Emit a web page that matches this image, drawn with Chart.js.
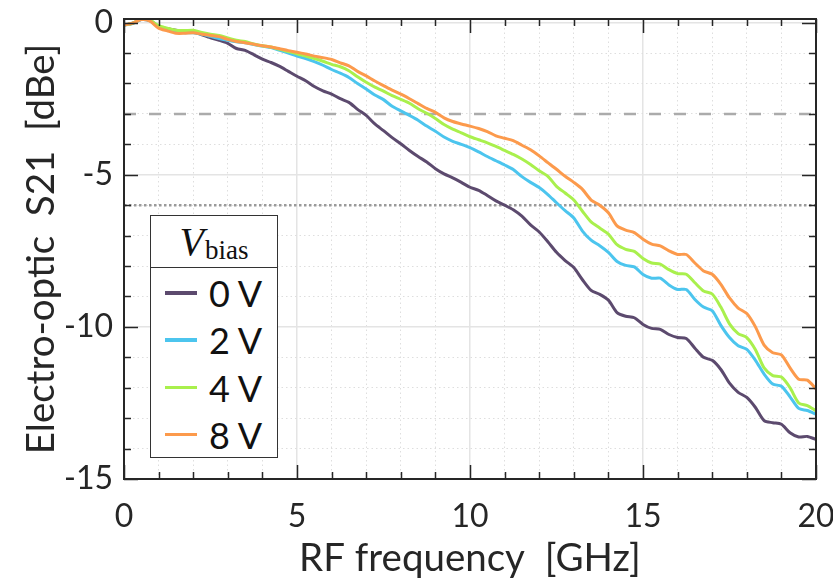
<!DOCTYPE html>
<html>
<head>
<meta charset="utf-8">
<script src="https://cdn.jsdelivr.net/npm/chart.js@4.4.1/dist/chart.umd.min.js"></script>
<style>
  html, body { margin: 0; padding: 0; background: #ffffff; }
  #wrap { position: relative; width: 833px; height: 582px; }
  #legend { position: absolute; left: 150px; top: 215px; width: 128px; height: 243px;
            border: 1.5px solid #333; background: #fff; box-sizing: border-box; }
  #legTitle { height: 52px; border-bottom: 1.5px solid #333; box-sizing: border-box;
              font-family: "Liberation Serif", "DejaVu Serif", serif; color: #111;
              text-align: center; line-height: 52px; }
  #legTitle i { font-size: 40px; }
  #legTitle sub { font-size: 27px; vertical-align: -4px; margin-left: 1px; }
  .item { position: absolute; left: 0; height: 40px; width: 126px; }
  .item .ln { position: absolute; left: 14px; width: 32px; height: 3.5px; top: 18px; }
  .item .tx { position: absolute; left: 58px; top: 0; line-height: 40px;
              font-family: Lato, "Open Sans", sans-serif; font-size: 36px; color: #111; }
</style>
</head>
<body>
<div id="wrap">
  <canvas id="c" width="833" height="582"></canvas>
  <div id="legend"><div id="legTitle"><i>V</i><sub>bias</sub></div></div>
</div>
<script>
// ---------------- data ----------------
const freqGHz = [0,0.25,0.5,0.75,1,1.25,1.5,1.75,2,2.25,2.5,2.75,3,3.25,3.5,3.75,4,4.25,4.5,4.75,
  5,5.25,5.5,5.75,6,6.25,6.5,6.75,7,7.25,7.5,7.75,8,8.25,8.5,8.75,9,9.25,9.5,9.75,
  10,10.25,10.5,10.75,11,11.25,11.5,11.75,12,12.25,12.5,12.75,13,13.25,13.5,13.75,14,14.25,14.5,14.75,
  15,15.25,15.5,15.75,16,16.25,16.5,16.75,17,17.25,17.5,17.75,18,18.25,18.5,18.75,19,19.25,19.5,19.75,20];

const s21_0V = [-0.08,-0.02,0.10,0.07,-0.12,-0.20,-0.25,-0.27,-0.30,-0.40,-0.50,-0.58,-0.68,-0.85,-0.91,-1.05,-1.20,-1.31,-1.44,-1.60,
  -1.76,-1.91,-2.10,-2.24,-2.35,-2.50,-2.62,-2.85,-3.05,-3.33,-3.55,-3.78,-3.98,-4.20,-4.40,-4.58,-4.80,-4.97,-5.10,-5.25,
  -5.41,-5.51,-5.68,-5.86,-6.00,-6.15,-6.36,-6.65,-6.88,-7.20,-7.55,-7.82,-8.05,-8.45,-8.80,-8.93,-9.12,-9.53,-9.65,-9.70,
  -9.92,-10.05,-10.08,-10.25,-10.35,-10.38,-10.70,-11.00,-11.10,-11.40,-11.85,-12.15,-12.32,-12.65,-13.08,-13.15,-13.20,-13.48,-13.62,-13.60,-13.70];

const s21_2V = [-0.08,-0.03,0.10,0.06,-0.13,-0.22,-0.30,-0.33,-0.33,-0.38,-0.45,-0.52,-0.58,-0.63,-0.66,-0.72,-0.77,-0.82,-0.91,-1.00,
  -1.10,-1.18,-1.28,-1.40,-1.54,-1.66,-1.80,-2.00,-2.18,-2.38,-2.53,-2.75,-2.90,-3.05,-3.21,-3.40,-3.57,-3.76,-3.90,-4.00,
  -4.11,-4.25,-4.40,-4.54,-4.68,-4.83,-5.06,-5.25,-5.42,-5.65,-5.92,-6.18,-6.42,-6.85,-7.15,-7.33,-7.55,-7.85,-7.98,-8.03,
  -8.28,-8.40,-8.40,-8.62,-8.77,-8.77,-9.10,-9.35,-9.47,-9.95,-10.35,-10.62,-10.74,-11.10,-11.55,-11.88,-11.95,-12.30,-12.68,-12.75,-12.87];

const s21_4V = [-0.08,-0.02,0.12,0.08,-0.10,-0.18,-0.25,-0.26,-0.25,-0.32,-0.38,-0.42,-0.50,-0.58,-0.62,-0.70,-0.76,-0.80,-0.88,-0.95,
  -1.02,-1.10,-1.18,-1.27,-1.37,-1.45,-1.58,-1.78,-1.96,-2.12,-2.25,-2.40,-2.52,-2.65,-2.83,-2.98,-3.15,-3.35,-3.50,-3.62,
  -3.75,-3.85,-3.95,-4.07,-4.20,-4.33,-4.48,-4.66,-4.87,-5.05,-5.38,-5.60,-5.83,-6.20,-6.55,-6.75,-6.95,-7.30,-7.45,-7.52,
  -7.75,-7.90,-7.94,-8.12,-8.25,-8.27,-8.55,-8.82,-8.92,-9.35,-9.90,-10.22,-10.35,-10.75,-11.35,-11.60,-11.65,-12.00,-12.50,-12.59,-12.76];

const s21_8V = [-0.08,-0.02,0.10,0.05,-0.18,-0.27,-0.35,-0.35,-0.33,-0.38,-0.42,-0.46,-0.55,-0.62,-0.66,-0.71,-0.76,-0.80,-0.86,-0.92,
  -0.97,-1.03,-1.10,-1.15,-1.21,-1.32,-1.42,-1.60,-1.75,-1.92,-2.07,-2.22,-2.35,-2.50,-2.66,-2.82,-2.95,-3.13,-3.25,-3.33,
  -3.40,-3.48,-3.58,-3.72,-3.80,-3.88,-4.03,-4.18,-4.38,-4.60,-4.82,-5.05,-5.25,-5.48,-5.83,-6.00,-6.25,-6.68,-6.82,-6.90,
  -7.12,-7.28,-7.34,-7.50,-7.62,-7.62,-7.90,-8.16,-8.27,-8.60,-9.05,-9.38,-9.56,-10.00,-10.60,-10.85,-10.92,-11.35,-11.72,-11.75,-12.04];

const seriesLabels = ["0 V", "2 V", "4 V", "8 V"];
const seriesColors = ["#5c4a6e", "#4cc5ee", "#a9f04d", "#fc9a4c"];
const seriesValues = [s21_0V, s21_2V, s21_4V, s21_8V];

const refLevels = [-3, -6];          // -3 dB dashed, -6 dB dotted
const xTickValues = [0,1,2,3,4,5,6,7,8,9,10,11,12,13,14,15,16,17,18,19,20];
const yTickValues = [-15,-14,-13,-12,-11,-10,-9,-8,-7,-6,-5,-4,-3,-2,-1,0];
const xRange = [0, 20];
const yRange = [-15, 0.12];

// ---------------- chart ----------------
const FONT = 'Lato, "Open Sans", sans-serif';
const pts = (ys) => ys.map((v, i) => ({ x: freqGHz[i], y: v }));

const datasets = seriesValues.map((ys, i) => ({
  label: seriesLabels[i],
  data: pts(ys),
  borderColor: seriesColors[i],
  borderWidth: 3,
  pointRadius: 0,
  tension: 0.25,
  order: 3 - i
}));
datasets.push({
  label: 'ref-3', data: [{ x: xRange[0], y: refLevels[0] }, { x: xRange[1], y: refLevels[0] }],
  borderColor: '#ababab', borderWidth: 2.5, borderDash: [12, 13], borderDashOffset: 0,
  pointRadius: 0, order: 10
});
datasets.push({
  label: 'ref-6', data: [{ x: xRange[0], y: refLevels[1] }, { x: xRange[1], y: refLevels[1] }],
  borderColor: '#9a9a9a', borderWidth: 2.5, borderDash: [2.5, 2.5],
  pointRadius: 0, order: 10
});

const isMajor = (v) => Math.abs(v % 5) < 1e-9;
const gridColor = (c) => (c.tick && isMajor(c.tick.value)) ? '#e4e4e4' : '#dedede';
const gridWidth = (c) => (c.tick && isMajor(c.tick.value)) ? 1.5 : 1;
const gridDash = (c) => (c.tick && isMajor(c.tick.value)) ? [] : [1.5, 3];

const framePlugin = {
  id: 'frame',
  afterDatasetsDraw(chart) {
    const { ctx, chartArea: { left, right, top, bottom }, scales: { x, y } } = chart;
    ctx.save();
    ctx.strokeStyle = '#262626';
    ctx.lineWidth = 1.5;
    ctx.beginPath();
    xTickValues.forEach(v => {
      const p = Math.round(x.getPixelForValue(v)) + 0.5;
      const L = isMajor(v) ? 14 : 7;
      ctx.moveTo(p, bottom); ctx.lineTo(p, bottom - L);
      ctx.moveTo(p, top); ctx.lineTo(p, top + L);
    });
    yTickValues.forEach(v => {
      const p = Math.round(y.getPixelForValue(v)) + 0.5;
      const L = isMajor(v) ? 14 : 7;
      ctx.moveTo(left, p); ctx.lineTo(left + L, p);
      ctx.moveTo(right, p); ctx.lineTo(right - L, p);
    });
    ctx.stroke();
    ctx.lineWidth = 2;
    ctx.strokeRect(left, top, right - left, bottom - top);
    ctx.restore();
  }
};

new Chart(document.getElementById('c'), {
  type: 'line',
  data: { datasets },
  plugins: [framePlugin],
  options: {
    responsive: false,
    animation: false,
    layout: { padding: { left: 0, right: 17, top: 19, bottom: 0 } },
    plugins: { legend: { display: false }, tooltip: { enabled: false } },
    scales: {
      x: {
        type: 'linear', min: xRange[0], max: xRange[1],
        afterBuildTicks: (s) => { s.ticks = xTickValues.map(v => ({ value: v })); },
        afterFit: (s) => { s.height = 103; s.paddingLeft = 0; s.paddingRight = 0; },
        ticks: {
          autoSkip: false, maxRotation: 0, padding: 18, color: '#262626',
          font: { family: FONT, size: 32 },
          callback: (v) => isMajor(v) ? String(v) : ''
        },
        grid: { color: gridColor, lineWidth: gridWidth, drawTicks: false },
        border: { display: false, dash: gridDash },
        title: {
          display: true, text: 'RF frequency  [GHz]', color: '#262626',
          font: { family: FONT, size: 38.5 }, padding: { top: 0, bottom: 0 }
        }
      },
      y: {
        type: 'linear', min: yRange[0], max: yRange[1],
        afterBuildTicks: (s) => { s.ticks = yTickValues.map(v => ({ value: v })); },
        afterFit: (s) => { s.width = 124; s.paddingTop = 0; s.paddingBottom = 0; },
        ticks: {
          autoSkip: false, padding: 11, color: '#262626',
          font: { family: FONT, size: 32 },
          callback: (v) => isMajor(v) ? String(v) : ''
        },
        grid: { color: gridColor, lineWidth: gridWidth, drawTicks: false },
        border: { display: false, dash: gridDash },
        title: {
          display: true, text: 'Electro-optic  S21  [dBe]', color: '#262626',
          font: { family: FONT, size: 38.5 }, padding: { top: 18, bottom: 0 }
        }
      }
    }
  }
});

// ---------------- legend (HTML, built from the series arrays) ----------------
const leg = document.getElementById('legend');
seriesLabels.forEach((lab, i) => {
  const it = document.createElement('div');
  it.className = 'item';
  it.style.top = (57 + i * 47.3) + 'px';
  const ln = document.createElement('div');
  ln.className = 'ln'; ln.style.background = seriesColors[i];
  const tx = document.createElement('div');
  tx.className = 'tx'; tx.textContent = lab;
  it.appendChild(ln); it.appendChild(tx);
  leg.appendChild(it);
});
</script>
</body>
</html>
